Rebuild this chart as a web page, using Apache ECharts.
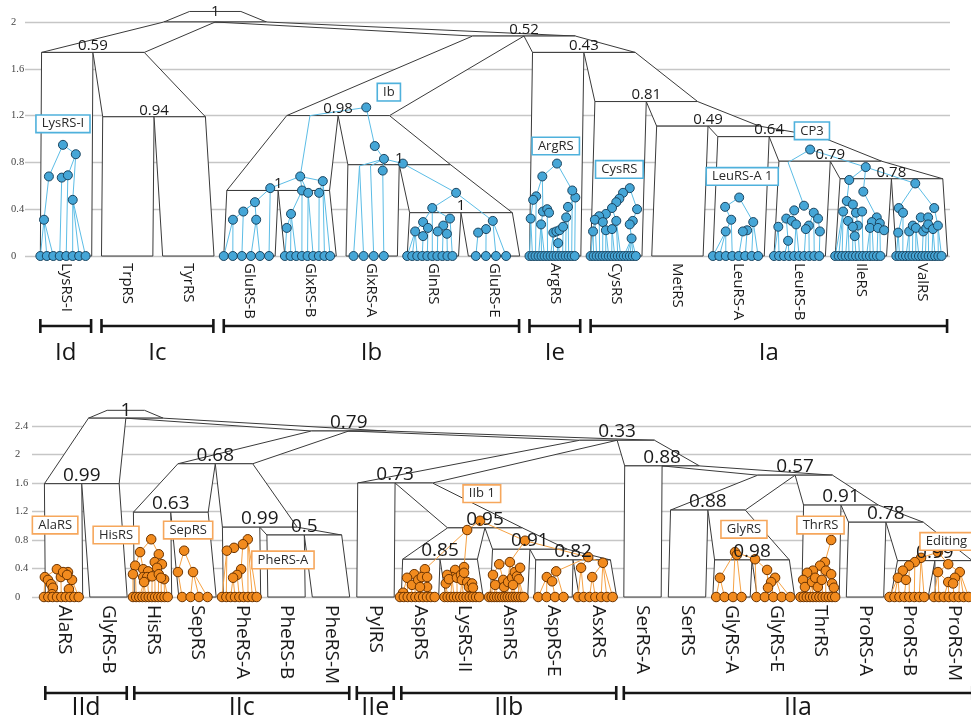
<!DOCTYPE html>
<html><head><meta charset="utf-8">
<script src="https://cdn.jsdelivr.net/npm/echarts@6/dist/echarts.min.js"></script>
<style>html,body{margin:0;padding:0;background:#fff}#c{width:971px;height:719px}</style>
</head><body><div id="c"></div>
<script>
// ===================== DATA =====================
// ---- Class I panel (top) ----
const topTips = ['LysRS-I','TrpRS','TyrRS','GluRS-B','GlxRS-B','GlxRS-A','GlnRS','GluRS-E','ArgRS','CysRS','MetRS','LeuRS-A','LeuRS-B','IleRS','ValRS'];
const topTipGeneCounts = [8,0,0,6,9,4,10,4,16,16,0,8,10,14,15];
// species nodes: [id, x (tip units), height, support, children]
const topNodes = [
  ['root', 2.44, 2.0, '1', ['n059','n052']],
  ['n059', 0.44, 1.74, '0.59', ['LysRS-I','Ic']],
  ['Ic', 1.44, 1.19, '0.94', ['TrpRS','TyrRS']],
  ['n052', 7.49, 1.88, '0.52', ['Ib','n043']],
  ['Ib', 4.45, 1.2, '0.98', ['n1a','n1b']],
  ['n1a', 3.47, 0.56, '1', ['GluRS-B','GlxRS-B']],
  ['n1b', 5.45, 0.78, '1', ['GlxRS-A','n1c']],
  ['n1c', 6.46, 0.37, '1', ['GlnRS','GluRS-E']],
  ['n043', 8.47, 1.74, '0.43', ['ArgRS','n081']],
  ['n081', 9.49, 1.32, '0.81', ['CysRS','n049']],
  ['n049', 10.5, 1.11, '0.49', ['MetRS','n064']],
  ['n064', 11.5, 1.02, '0.64', ['LeuRS-A','n079']],
  ['n079', 12.5, 0.81, '0.79', ['LeuRS-B','n078']],
  ['n078', 13.5, 0.66, '0.78', ['IleRS','ValRS']]
];
const topRootTop = 2.09;
// gene tree nodes: [id, x, height, parent, visible(0 = hidden)]
const topGenes = [
  ['L1',-0.36,0.31,'L2'],['L2',-0.28,0.68,'L3'],['L3',-0.05,0.95,null],['L4',-0.07,0.67,'L5'],['L5',0.03,0.69,'L6'],['L6',0.16,0.87,'L3'],['L7',0.11,0.48,'L6'],
  ['B1',2.73,0.31,'B3'],['B2',2.90,0.38,'B3'],['B3',3.09,0.46,'B5'],['B4',3.11,0.31,'B3'],['B5',3.34,0.58,'B6'],['B6',3.83,0.68,'B7'],['B7',3.99,1.20,'IB',0],
  ['X1',3.61,0.24,'X2'],['X2',3.68,0.36,'X3'],['X3',3.86,0.56,'B6'],['X4',3.96,0.54,'B6'],['X5',4.14,0.54,'X6'],['X6',4.20,0.64,'B6'],
  ['IB',4.91,1.27,null],['I1',5.05,0.94,'IB'],['I2',5.20,0.83,'I1'],['I3',5.18,0.73,'I2'],['I4',4.80,0.77,'I2',0],['I5',4.98,0.77,'I2',0],['I6',5.51,0.79,'I2'],['I7',6.38,0.54,'I6'],
  ['Q1',5.99,0.41,'I7'],['Q2',5.71,0.21,'Q3'],['Q3',5.84,0.29,'Q1'],['Q4',5.84,0.17,'Q5'],['Q5',5.92,0.24,'Q3'],['Q6',6.28,0.32,'Q1'],['Q7',6.17,0.26,'Q6'],['Q8',6.08,0.21,'Q7'],['Q9',6.23,0.19,'Q7'],
  ['E1',6.98,0.30,'I7'],['E2',6.87,0.23,'E1'],['E3',6.74,0.20,'E2'],
  ['A0',8.03,0.79,null],['A1',7.79,0.68,'A0'],['A2',7.69,0.51,'A1'],['A3',7.64,0.48,'A2'],['A4',7.60,0.32,'A3'],['A5',7.80,0.38,'A1'],['A6',7.87,0.40,'A5'],['A7',7.90,0.37,'A6'],['A8',7.77,0.27,'A5'],
  ['A9',7.97,0.20,'A10'],['A10',8.02,0.21,'A11'],['A11',8.07,0.22,'A12'],['A12',8.13,0.25,'A13'],['A13',8.18,0.33,'A14'],['A14',8.21,0.42,'A15'],['A15',8.33,0.50,'A16'],['A16',8.28,0.56,'A0'],['A17',8.05,0.11,'A10'],
  ['C0',9.22,0.58,null],['C1',9.11,0.54,'C0'],['C2',9.05,0.49,'C1'],['C3',9.00,0.46,'C2'],['C4',8.93,0.41,'C3'],['C5',8.83,0.36,'C4'],['C6',8.72,0.34,'C5'],['C7',8.65,0.31,'C6'],['C8',8.62,0.21,'C7'],
  ['C9',8.78,0.29,'C5'],['C10',8.83,0.22,'C9'],['C11',8.93,0.23,'C12'],['C12',9.00,0.30,'C4'],['C13',9.34,0.40,'C0'],['C14',9.27,0.30,'C13'],['C15',9.22,0.27,'C14'],['C16',9.25,0.15,'C15'],
  ['LA0',11.01,0.50,null],['LA1',10.78,0.42,'LA0'],['LA2',10.88,0.31,'LA1'],['LA3',10.79,0.21,'LA2'],['LA4',11.24,0.29,'LA0'],['LA5',11.14,0.22,'LA4'],['LA6',11.07,0.21,'LA5'],
  ['CP',12.17,0.91,null],['LB0',11.81,0.80,'CP',0],['LB1',12.07,0.43,'LB0'],['LB2',11.91,0.39,'LB1'],['LB3',11.78,0.32,'LB2'],['LB4',11.65,0.25,'LB3'],['LB5',11.81,0.13,'LB3'],['LB6',11.87,0.30,'LB2'],['LB7',11.94,0.27,'LB6'],
  ['LB8',12.23,0.37,'LB1'],['LB9',12.30,0.32,'LB8'],['LB10',12.33,0.21,'LB9'],['LB11',12.15,0.26,'LB8'],['LB12',12.10,0.23,'LB11'],
  ['IL0',13.08,0.76,'CP'],['IL1',12.81,0.65,'IL0'],['IL2',13.04,0.55,'IL0'],['IL3',12.77,0.47,'IL1'],['IL4',12.87,0.44,'IL3'],['IL5',12.71,0.38,'IL3'],['IL6',12.79,0.30,'IL5'],['IL7',12.92,0.37,'IL4'],['IL8',13.02,0.38,'IL7'],
  ['IL9',12.95,0.26,'IL7'],['IL10',12.90,0.17,'IL11'],['IL11',12.87,0.25,'IL4'],['IL12',13.26,0.33,'IL2'],['IL13',13.18,0.29,'IL12'],['IL14',13.15,0.24,'IL13'],['IL15',13.31,0.28,'IL12'],['IL16',13.28,0.24,'IL15'],['IL17',13.38,0.22,'IL15'],
  ['V0',13.89,0.62,'IL0'],['V1',13.62,0.41,'V0'],['V2',13.69,0.37,'V1'],['V3',13.61,0.20,'V2'],['V4',14.20,0.41,'V0'],['V5',13.98,0.33,'V6'],['V6',14.10,0.33,'V4'],['V7',13.79,0.21,'V8'],
  ['V8',13.85,0.26,'V9'],['V9',13.90,0.24,'V5'],['V10',14.02,0.21,'V11'],['V11',14.07,0.24,'V12'],['V12',14.10,0.27,'V6'],['V13',14.18,0.23,'V14'],['V14',14.26,0.26,'V4']
];
const topClasses = [['Id',0,0],['Ic',1,2],['Ib',3,7],['Ie',8,8],['Ia',9,14]];
const topNotes = [['LysRS-I',-0.05,1.13],['Ib',5.28,1.40],['ArgRS',8.01,0.94],['CysRS',9.05,0.74],['LeuRS-A 1',11.06,0.68],['CP3',12.2,1.07]];
const topYTicks = [0,0.4,0.8,1.2,1.6,2];

// ---- Class II panel (bottom) ----
const botTips = ['AlaRS','GlyRS-B','HisRS','SepRS','PheRS-A','PheRS-B','PheRS-M','PylRS','AspRS','LysRS-II','AsnRS','AspRS-E','AsxRS','SerRS-A','SerRS','GlyRS-A','GlyRS-E','ThrRS','ProRS-A','ProRS-B','ProRS-M'];
const botTipGeneCounts = [9,0,12,4,9,0,0,0,10,12,14,4,7,0,0,4,5,12,0,8,8];
const botNodes = [
  ['root', 1.39, 2.51, '1', ['IId','n079']],
  ['IId', 0.40, 1.59, '0.99', ['AlaRS','GlyRS-B']],
  ['n079', 6.40, 2.33, '0.79', ['IIc','n033']],
  ['IIc', 3.40, 1.87, '0.68', ['n063','n099']],
  ['n063', 2.40, 1.19, '0.63', ['HisRS','SepRS']],
  ['n099', 4.40, 0.98, '0.99', ['PheRS-A','n05']],
  ['n05', 5.40, 0.87, '0.5', ['PheRS-B','PheRS-M']],
  ['n033', 12.43, 2.20, '0.33', ['n073','n088a']],
  ['n073', 7.44, 1.60, '0.73', ['PylRS','n095']],
  ['n095', 9.46, 0.97, '0.95', ['n085','n091']],
  ['n085', 8.45, 0.53, '0.85', ['AspRS','LysRS-II']],
  ['n091', 10.47, 0.67, '0.91', ['AsnRS','n082']],
  ['n082', 11.44, 0.52, '0.82', ['AspRS-E','AsxRS']],
  ['n088a', 13.44, 1.84, '0.88', ['SerRS-A','n057']],
  ['n057', 16.43, 1.71, '0.57', ['n088b','n091b']],
  ['n088b', 14.47, 1.22, '0.88', ['SerRS','n098']],
  ['n098', 15.46, 0.52, '0.98', ['GlyRS-A','GlyRS-E']],
  ['n091b', 17.46, 1.29, '0.91', ['ThrRS','n078b']],
  ['n078b', 18.47, 1.05, '0.78', ['ProRS-A','n099b']],
  ['n099b', 19.57, 0.51, '0.99', ['ProRS-B','ProRS-M']]
];
const botRootTop = 2.62;
const botGenes = [
  ['a0',-0.16,0.39,null],['a1',-0.43,0.28,'a0'],['a2',-0.36,0.24,'a1'],['a3',-0.29,0.18,'a2'],['a4',-0.25,0.13,'a3'],['a5',-0.27,0.04,'a4'],['a6',-0.07,0.28,'a0'],['a7',0.09,0.35,'a0'],['a8',-0.02,0.35,'a7'],['a9',0.18,0.24,'a7'],['a10',0.11,0.11,'a9'],['a11',0.07,0.31,'a8'],
  ['h0',1.96,0.81,null],['h1',1.71,0.63,'h0'],['h2',1.60,0.44,'h1'],['h3',1.55,0.32,'h2'],['h4',2.13,0.60,'h0'],['h5',2.04,0.49,'h4'],['h6',2.20,0.46,'h4'],['h7',2.09,0.41,'h5'],['h8',1.78,0.39,'h1'],
  ['h9',1.89,0.36,'h8'],['h10',1.78,0.28,'h8'],['h11',1.87,0.28,'h9'],['h12',1.98,0.29,'h9'],['h13',1.80,0.21,'h10'],['h14',2.13,0.32,'h6'],['h15',2.25,0.25,'h14'],['h16',2.18,0.27,'h14'],
  ['s0',2.70,0.65,null],['s1',2.56,0.35,'s0'],['s2',2.90,0.35,'s0'],
  ['p0',4.13,0.81,null],['p1',4.02,0.74,'p0'],['p2',3.82,0.69,'p1'],['p3',3.66,0.65,'p2'],['p4',3.98,0.39,'p1'],['p5',3.89,0.31,'p4'],['p6',3.80,0.27,'p5'],
  ['R',9.35,1.07,null],['R1',9.06,0.94,'R'],['R2',10.36,0.79,'R'],['R3',11.78,0.56,'R2'],
  ['asp0',8.11,0.39,'R1'],['asp1',7.87,0.32,'asp0'],['asp2',7.71,0.27,'asp1'],['asp3',7.82,0.17,'asp2'],['asp4',7.96,0.24,'asp1'],['asp5',8.04,0.28,'asp0'],['asp6',8.16,0.28,'asp0'],['asp7',8.16,0.14,'asp6'],['asp8',8.00,0.14,'asp5'],['asp9',7.62,0.06,'asp2'],
  ['ly0',8.99,0.42,'R1'],['ly1',8.79,0.38,'ly0'],['ly2',8.72,0.28,'ly1'],['ly3',8.61,0.31,'ly2'],['ly4',8.58,0.19,'ly3'],['ly5',8.65,0.25,'ly2'],['ly6',8.83,0.27,'ly1'],['ly7',8.92,0.31,'ly0'],
  ['ly8',8.94,0.24,'ly7'],['ly9',8.99,0.34,'ly0'],['ly10',9.06,0.21,'ly9'],['ly11',9.10,0.14,'ly10'],['ly12',9.17,0.19,'ly9'],['ly13',9.19,0.13,'ly12'],
  ['an0',10.02,0.49,'R2'],['an1',9.78,0.46,'an0'],['an2',9.64,0.31,'an1'],['an3',9.69,0.17,'an2'],['an4',9.87,0.24,'an1'],['an5',9.89,0.14,'an4'],['an6',9.98,0.21,'an0'],['an7',10.07,0.27,'an0'],
  ['an8',10.13,0.35,'an0'],['an9',10.18,0.29,'an8'],['an10',10.25,0.41,'an0'],['an11',10.22,0.25,'an10'],['an12',10.09,0.17,'an7'],
  ['ae0',11.06,0.36,'R3'],['ae1',10.85,0.28,'ae0'],['ae2',10.97,0.22,'ae1'],
  ['ax0',12.11,0.48,'R3'],['ax1',11.62,0.41,'R3'],['ax2',11.87,0.28,'ax0'],
  ['g0',15.08,0.63,null],['g1',15.12,0.59,'g0'],['g2',14.74,0.27,'g0'],['g3',15.53,0.53,'g0'],
  ['ge0',15.80,0.38,'g3'],['ge1',15.98,0.27,'ge0'],['ge2',15.89,0.21,'ge1'],['ge3',15.82,0.13,'ge0'],
  ['t0',17.24,0.80,null],['t1',17.10,0.49,'t0'],['t2',16.99,0.44,'t1'],['t3',16.83,0.37,'t2'],['t4',16.70,0.34,'t3'],['t5',16.61,0.24,'t4'],['t6',16.65,0.14,'t5'],['t7',16.81,0.21,'t3'],
  ['t8',16.88,0.27,'t2'],['t9',16.94,0.14,'t8'],['t10',17.03,0.24,'t2'],['t11',17.12,0.37,'t1'],['t12',17.24,0.32,'t11'],['t13',17.26,0.19,'t12'],['t14',17.30,0.13,'t13'],
  ['ed',19.64,0.63,null],['pb0',19.26,0.55,'ed'],['pb1',19.12,0.49,'pb0'],['pb2',18.99,0.44,'pb1'],['pb3',18.85,0.37,'pb2'],['pb4',18.74,0.27,'pb3'],['pb5',18.92,0.24,'pb3'],
  ['pm0',19.87,0.46,'ed'],['pm1',19.64,0.35,'pm0'],['pm2',20.13,0.35,'pm0'],['pm3',20.02,0.27,'pm2'],['pm4',19.87,0.21,'pm1'],['pm5',19.98,0.19,'pm3']
];
const botClasses = [['IId',0,1],['IIc',2,6],['IIe',7,7],['IIb',8,12],['IIa',13,20]];
const botNotes = [['AlaRS',-0.2,1.01],['HisRS',1.17,0.87],['SepRS',2.79,0.94],['PheRS-A',4.92,0.52],['IIb 1',9.39,1.45],['GlyRS',15.28,0.95],['ThrRS',17.0,1.01],['Editing II',19.95,0.78]];
const botYTicks = [0,0.4,0.8,1.2,1.6,2,2.4];

// ===================== BUILD =====================
const TUBE_W = 0.84;
const FONT = '"Open Sans", "DejaVu Sans", sans-serif';

function buildPanel(gi, tips, counts, nodes, rootTop, genes, classes, notes, st) {
  const info = {};
  tips.forEach((t, i) => { info[t] = { x: i, h: 0, k: 1 }; });
  nodes.forEach(n => { info[n[0]] = { x: n[1], h: n[2], k: n[4].length, ch: n[4] }; });
  // species tubes [bl, br, hb, tl, tr, ht]
  const tubes = [];
  const r = info[nodes[0][0]];
  tubes.push([r.x - r.k * TUBE_W / 2, r.x + r.k * TUBE_W / 2, r.h, r.x - TUBE_W / 2, r.x + TUBE_W / 2, rootTop]);
  nodes.forEach(n => {
    const p = info[n[0]];
    const left = p.x - p.k * TUBE_W / 2;
    p.ch.forEach((cid, i) => {
      const c = info[cid];
      tubes.push([c.x - c.k * TUBE_W / 2, c.x + c.k * TUBE_W / 2, c.h, left + i * TUBE_W, left + (i + 1) * TUBE_W, p.h]);
    });
  });
  // gene tree
  const gmap = {};
  genes.forEach(g => { gmap[g[0]] = g; });
  const edges = [];
  genes.forEach(g => { if (g[3] && gmap[g[3]]) { const p = gmap[g[3]]; edges.push([g[1], g[2], p[1], p[2]]); } });
  const dots = genes.filter(g => g[4] !== 0).map(g => [g[1], g[2]]);
  counts.forEach((n, i) => {
    if (!n) return;
    const step = n > 1 ? Math.min(st.tipStep, st.tipSpan / (n - 1)) : 0;
    const cand = genes.filter(g => Math.abs(g[1] - i) < 0.5);
    for (let j = 0; j < n; j++) {
      const tx = i + st.tipOff + (j - (n - 1) / 2) * step;
      let best = null, bs = 1e9;
      cand.forEach(g => { const s = Math.abs(g[1] - tx) + 0.3 * g[2]; if (s < bs) { bs = s; best = g; } });
      if (best) edges.push([tx, 0, best[1], best[2]]);
      dots.push([tx, 0]);
    }
  });
  // labels
  const items = [];
  nodes.forEach((n, idx) => {
    if (idx === 0) items.push({ kind: 'rootsup', x: n[1], h: rootTop, text: n[3] });
    else items.push({ kind: 'sup', x: n[1], h: n[2], text: n[3] });
  });
  tips.forEach((t, i) => items.push({ kind: 'tip', x: i, h: 0, text: t }));
  classes.forEach(c => items.push({ kind: 'bracket', x: c[1] - 0.42, x2: c[2] + 0.41, h: 0, text: c[0] }));
  const noteItems = notes.map(n => ({ x: n[1], h: n[2], text: n[0] }));

  const base = { xAxisIndex: gi, yAxisIndex: gi, silent: true, animation: false };
  return [
    Object.assign({}, base, {
      type: 'custom', z: 2, clip: false,
      data: tubes,
      encode: { x: [0, 1, 3, 4], y: [2, 5] },
      renderItem: (params, api) => {
        const a = api.coord([api.value(0), api.value(2)]);
        const b = api.coord([api.value(1), api.value(2)]);
        const c = api.coord([api.value(4), api.value(5)]);
        const d = api.coord([api.value(3), api.value(5)]);
        return { type: 'polygon', shape: { points: [a, b, c, d] }, style: { fill: '#ffffff', stroke: '#3a3a3a', lineWidth: 1 } };
      }
    }),
    Object.assign({}, base, {
      type: 'custom', z: 3, clip: false,
      data: edges,
      encode: { x: [0, 2], y: [1, 3] },
      renderItem: (params, api) => {
        const a = api.coord([api.value(0), api.value(1)]);
        const b = api.coord([api.value(2), api.value(3)]);
        return { type: 'line', shape: { x1: a[0], y1: a[1], x2: b[0], y2: b[1] }, style: { stroke: st.lineColor, lineWidth: 1 } };
      }
    }),
    Object.assign({}, base, {
      type: 'scatter', z: 4, clip: false,
      data: dots, symbol: 'circle', symbolSize: st.dotSize,
      itemStyle: { color: st.dotFill, borderColor: st.dotStroke, borderWidth: 1, opacity: 1 }
    }),
    Object.assign({}, base, {
      type: 'custom', z: 5, clip: false,
      data: items.map(d => [d.x, d.h, d.x2 != null ? d.x2 : d.x]),
      renderItem: (params, api) => {
        const d = items[params.dataIndex];
        const p = api.coord([api.value(0), api.value(1)]);
        if (d.kind === 'sup' || d.kind === 'rootsup') {
          return { type: 'text', x: p[0], y: p[1] + (d.kind === 'sup' ? 1 : 0),
            style: { text: d.text, fill: '#1a1a1a', font: st.supFont + 'px ' + FONT,
              align: 'center', verticalAlign: d.kind === 'sup' ? 'bottom' : 'middle',
              textAlign: 'center', textVerticalAlign: d.kind === 'sup' ? 'bottom' : 'middle' } };
        }
        if (d.kind === 'tip') {
          return { type: 'text', x: p[0], y: p[1] + st.tipGap, rotation: -Math.PI / 2,
            style: { text: d.text, fill: '#1a1a1a', font: st.tipFont + 'px ' + FONT,
              align: 'left', verticalAlign: 'middle', textAlign: 'left', textVerticalAlign: 'middle' } };
        }
        // bracket
        const q = api.coord([api.value(2), api.value(1)]);
        const y = p[1] + st.bracketGap;
        const t = 7;
        const sty = { stroke: '#161616', lineWidth: 2.6 };
        return { type: 'group', children: [
          { type: 'line', shape: { x1: p[0], y1: y, x2: q[0], y2: y }, style: sty },
          { type: 'line', shape: { x1: p[0], y1: y - t, x2: p[0], y2: y + t }, style: sty },
          { type: 'line', shape: { x1: q[0], y1: y - t, x2: q[0], y2: y + t }, style: sty },
          { type: 'text', x: (p[0] + q[0]) / 2, y: p[1] + st.bracketLabelGap,
            style: { text: d.text, fill: '#161616', font: st.bracketFont + 'px ' + FONT,
              align: 'center', verticalAlign: 'middle', textAlign: 'center', textVerticalAlign: 'middle' } }
        ] };
      }
    }),
    Object.assign({}, base, {
      type: 'custom', z: 6, clip: false,
      data: noteItems.map(d => [d.x, d.h]),
      renderItem: (params, api) => {
        const d = noteItems[params.dataIndex];
        const p = api.coord([api.value(0), api.value(1)]);
        return { type: 'text', x: p[0], y: p[1],
          style: { text: d.text, fill: '#2a2a2a', font: st.noteFont + 'px ' + FONT,
            align: 'center', verticalAlign: 'middle', textAlign: 'center', textVerticalAlign: 'middle',
            backgroundColor: '#ffffff', borderColor: st.boxColor, borderWidth: 1.6, padding: [2, 5, 1, 5] } };
      }
    })
  ];
}

const topStyle = { tipStep: 0.165, tipSpan: 0.74, tipOff: -0.05, dotSize: 9, lineColor: '#5cbde6', dotFill: '#45a6d7', dotStroke: '#1b4560',
  supFont: 15, tipFont: 15, tipGap: 7, bracketGap: 70, bracketLabelGap: 97, bracketFont: 24, noteFont: 13, boxColor: '#4fb1dc' };
const botStyle = { tipStep: 0.19, tipSpan: 0.78, tipOff: -0.06, dotSize: 9.5, lineColor: '#f6a244', dotFill: '#f28b1e', dotStroke: '#6b3300',
  supFont: 19, tipFont: 19, tipGap: 8, bracketGap: 96, bracketLabelGap: 111, bracketFont: 25, noteFont: 13, boxColor: '#f6a75c' };

function yAxisCfg(gi, max, margin) {
  return {
    gridIndex: gi, type: 'value', min: 0, max: max, interval: 0.4,
    axisLine: { show: false }, axisTick: { show: false },
    axisLabel: { align: 'left', margin: margin, color: '#444', fontFamily: '"Liberation Serif", serif', fontSize: 10.5,
      formatter: v => String(+(+v).toFixed(1)) },
    splitLine: { show: true, lineStyle: { color: '#c6c6c6', width: 1.4 } }
  };
}

const chart = echarts.init(document.getElementById('c'), null, { renderer: 'canvas' });
chart.setOption({
  backgroundColor: '#ffffff',
  animation: false,
  grid: [
    { left: 25, top: 22, width: 925, height: 234 },
    { left: 32, top: 426, width: 939, height: 171 }
  ],
  xAxis: [
    { gridIndex: 0, type: 'value', min: -0.671, max: 14.458, show: false },
    { gridIndex: 1, type: 'value', min: -0.719, max: 20.382, show: false }
  ],
  yAxis: [ yAxisCfg(0, topYTicks[topYTicks.length - 1], 14), yAxisCfg(1, botYTicks[botYTicks.length - 1], 17) ],
  series: [].concat(
    buildPanel(0, topTips, topTipGeneCounts, topNodes, topRootTop, topGenes, topClasses, topNotes, topStyle),
    buildPanel(1, botTips, botTipGeneCounts, botNodes, botRootTop, botGenes, botClasses, botNotes, botStyle)
  )
});
</script>
</body></html>
